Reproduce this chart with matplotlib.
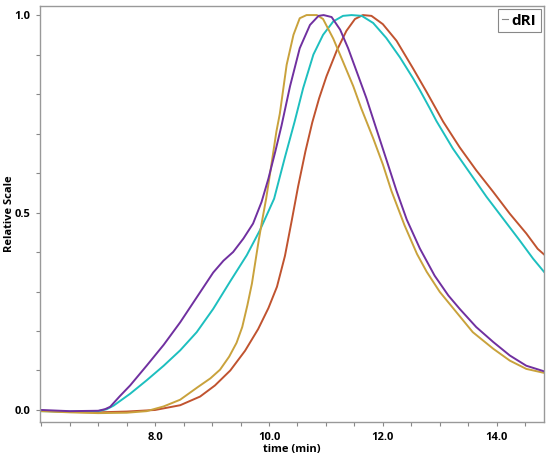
import matplotlib.pyplot as plt
from matplotlib.lines import Line2D
from matplotlib.ticker import MultipleLocator, FixedLocator

plt.rcParams['font.family'] = ['Open Sans', 'DejaVu Sans']

# traces (time in min, relative scale)
purple_t = [6.0, 6.5, 7.0, 7.12, 7.21, 7.38, 7.56, 7.85, 8.15, 8.44, 8.73, 9.02, 9.2,
            9.37, 9.55, 9.72, 9.87, 9.99, 10.11, 10.22, 10.37, 10.54, 10.72, 10.87,
            10.96, 11.1, 11.25, 11.39, 11.54, 11.71, 11.89, 12.06, 12.24, 12.42, 12.65,
            12.91, 13.15, 13.35, 13.64, 13.94, 14.23, 14.52, 14.83]
purple_y = [0.0, -0.003, -0.002, 0.002, 0.008, 0.035, 0.062, 0.112, 0.165, 0.222, 0.285,
            0.348, 0.378, 0.40, 0.434, 0.472, 0.527, 0.586, 0.654, 0.72, 0.82, 0.916,
            0.975, 0.998, 1.0, 0.995, 0.963, 0.916, 0.857, 0.79, 0.71, 0.635, 0.555,
            0.482, 0.409, 0.34, 0.29, 0.256, 0.21, 0.172, 0.138, 0.112, 0.098]

cyan_t = [6.0, 6.5, 7.0, 7.15, 7.27, 7.56, 7.85, 8.15, 8.44, 8.73, 9.02, 9.32, 9.61,
          9.84, 10.09, 10.28, 10.45, 10.6, 10.78, 10.95, 11.13, 11.3, 11.45, 11.63,
          11.83, 12.06, 12.3, 12.53, 12.65, 12.82, 12.94, 13.23, 13.53, 13.82, 14.11,
          14.4, 14.64, 14.83]
cyan_y = [-0.003, -0.004, -0.003, 0.002, 0.011, 0.041, 0.075, 0.112, 0.151, 0.197, 0.256,
          0.326, 0.392, 0.455, 0.535, 0.64, 0.73, 0.815, 0.9, 0.95, 0.984, 0.998, 1.0,
          0.998, 0.98, 0.942, 0.893, 0.84, 0.81, 0.765, 0.732, 0.662, 0.6, 0.54,
          0.485, 0.43, 0.383, 0.35]

gold_t = [6.0, 6.5, 7.0, 7.5, 7.85, 8.15, 8.44, 8.75, 8.97, 9.14, 9.3, 9.43, 9.53,
          9.62, 9.7, 9.76, 9.82, 9.88, 9.95, 10.02, 10.13, 10.19, 10.31, 10.43, 10.54,
          10.66, 10.75, 10.84, 10.95, 11.13, 11.3, 11.48, 11.62, 11.83, 12.0, 12.15,
          12.38, 12.6, 12.77, 13.0, 13.29, 13.58, 13.94, 14.23, 14.52, 14.83]
gold_y = [-0.003, -0.006, -0.008, -0.007, -0.003, 0.009, 0.026, 0.058, 0.08, 0.102,
          0.135, 0.17, 0.21, 0.265, 0.32, 0.375, 0.43, 0.48, 0.535, 0.6, 0.705, 0.75,
          0.874, 0.95, 0.992, 1.0, 1.0, 1.0, 0.99, 0.94, 0.882, 0.82, 0.764, 0.688,
          0.622, 0.555, 0.468, 0.395, 0.35, 0.299, 0.248, 0.197, 0.155, 0.125, 0.104,
          0.094]

red_t = [6.0, 6.5, 7.0, 7.5, 8.0, 8.44, 8.79, 9.05, 9.32, 9.58, 9.81, 9.99, 10.14,
         10.28, 10.4, 10.51, 10.64, 10.76, 10.88, 11.01, 11.19, 11.36, 11.51, 11.65,
         11.8, 12.0, 12.24, 12.53, 12.77, 13.06, 13.35, 13.64, 13.94, 14.23, 14.52,
         14.72, 14.83]
red_y = [-0.002, -0.005, -0.006, -0.004, 0.0, 0.012, 0.034, 0.062, 0.1, 0.15, 0.205,
         0.258, 0.312, 0.39, 0.48, 0.565, 0.655, 0.728, 0.789, 0.845, 0.91, 0.96,
         0.99, 1.0, 0.998, 0.977, 0.935, 0.865, 0.805, 0.73, 0.665, 0.607, 0.552,
         0.497, 0.447, 0.408, 0.394]

fig = plt.figure(figsize=(5.5, 4.61), dpi=100)
ax = fig.add_axes([0.073, 0.085, 0.916, 0.902])

ax.plot(red_t, red_y, color='#C0532F', lw=1.4)
ax.plot(cyan_t, cyan_y, color='#1DBFBF', lw=1.4)
ax.plot(gold_t, gold_y, color='#C9A23C', lw=1.4)
ax.plot(purple_t, purple_y, color='#7030A0', lw=1.4)

ax.set_xlim(5.98, 14.83)
ax.set_ylim(-0.03, 1.023)

ax.xaxis.set_major_locator(FixedLocator([8, 10, 12, 14]))
ax.xaxis.set_minor_locator(MultipleLocator(0.5))
ax.yaxis.set_major_locator(FixedLocator([0.0, 0.5, 1.0]))
ax.yaxis.set_minor_locator(MultipleLocator(0.1))
ax.set_xticklabels(['8.0', '10.0', '12.0', '14.0'])
ax.set_yticklabels(['0.0', '0.5', '1.0'])

ax.tick_params(which='both', direction='out', length=3, width=0.8, color='#888888',
               labelsize=8, pad=4)
for lbl in ax.get_xticklabels() + ax.get_yticklabels():
    lbl.set_fontweight('bold')

for s in ax.spines.values():
    s.set_color('#999999')
    s.set_linewidth(1.0)

ax.set_xlabel('time (min)', fontsize=8, fontweight='bold', labelpad=1)
ax.set_ylabel('Relative Scale', fontsize=8, fontweight='bold')
ax.yaxis.set_label_coords(-0.05, 0.5)

handle = Line2D([], [], color='#888888', lw=0.8)
leg = ax.legend([handle], ['dRI'], loc='upper right', handlelength=0.35,
                handletextpad=0.25, borderpad=0.3, fancybox=False, framealpha=1,
                prop={'weight': 'bold', 'size': 11}, borderaxespad=0.2)
leg.get_frame().set_edgecolor('#888888')
leg.get_frame().set_linewidth(0.8)

fig.savefig('out.png', dpi=100)
